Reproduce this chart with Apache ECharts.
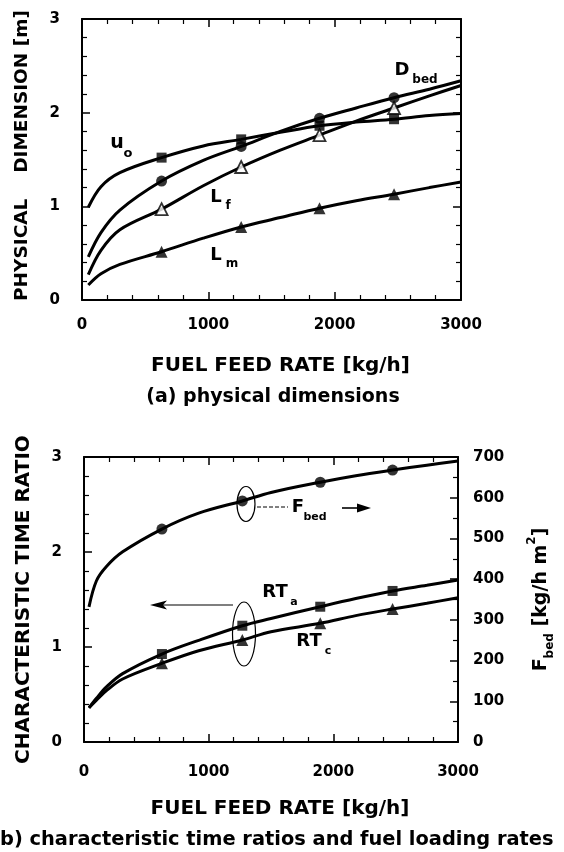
<!DOCTYPE html>
<html>
<head>
<meta charset="utf-8">
<title>physical dimensions / characteristic time ratios</title>
<script src="https://cdn.jsdelivr.net/npm/echarts@6/dist/echarts.min.js"></script>
<style>
  html, body { margin: 0; padding: 0; background: #fff; }
  #chart { width: 564px; height: 852px; }
</style>
</head>
<body>
<div id="chart"></div>
<script>
// ---- (a) physical dimensions [m] vs fuel feed rate [kg/h]
const feedA = [50, 150, 300, 630, 960, 1260, 1570, 1880, 2170, 2470, 2750, 3000];
const uO    = [0.99, 1.21, 1.36, 1.52, 1.645, 1.715, 1.79, 1.86, 1.90, 1.93, 1.97, 1.99];
const dBed  = [0.46, 0.72, 0.96, 1.27, 1.49, 1.64, 1.80, 1.94, 2.05, 2.16, 2.25, 2.34];
const lF    = [0.27, 0.53, 0.75, 0.97, 1.22, 1.42, 1.60, 1.76, 1.91, 2.05, 2.18, 2.29];
const lM    = [0.16, 0.28, 0.38, 0.515, 0.66, 0.78, 0.88, 0.98, 1.06, 1.13, 1.20, 1.26];
const markA = [630, 1260, 1880, 2470];

// ---- (b) characteristic time ratios (left) and fuel loading rate (right)
const feedB = [40, 100, 180, 310, 625, 920, 1270, 1500, 1895, 2180, 2475, 2750, 3000];
const fBed  = [332, 396, 431, 467, 523, 562, 592, 613, 638, 654, 668, 680, 690];
const rtA   = [0.36, 0.46, 0.58, 0.72, 0.926, 1.07, 1.224, 1.30, 1.424, 1.51, 1.59, 1.65, 1.705];
const rtC   = [0.36, 0.44, 0.54, 0.663, 0.828, 0.961, 1.074, 1.161, 1.249, 1.33, 1.40, 1.46, 1.519];
const markB = [625, 1270, 1895, 2475];

// tick labels
const xTicks  = ['0', '1000', '2000', '3000'];
const yTicks  = ['0', '1', '2', '3'];
const fTicks  = ['0', '100', '200', '300', '400', '500', '600', '700'];

const FONT = 'DejaVu Sans';
const black = '#000';

function pairs(xs, ys) {
  return xs.map((x, i) => [x, ys[i]]);
}
function marks(xs, ys, mk) {
  return pairs(xs, ys).filter(p => mk.indexOf(p[0]) >= 0);
}
// label text taken from the tick-label list, not from the number formatter
function fromList(list, step) {
  return v => list[Math.round(v / step)] || '';
}

const frame = { show: true, onZero: false, lineStyle: { color: black, width: 2 } };
const tick = { show: true, inside: true, length: 8, lineStyle: { color: black, width: 1.5 } };
const labelFont = { color: black, fontFamily: FONT, fontWeight: 'bold', fontSize: 15 };

function xAxis(grid, pos, withLabels, margin, nameGap) {
  return {
    type: 'value', gridIndex: grid, position: pos,
    min: 0, max: Number(xTicks[xTicks.length - 1]), interval: 1000,
    axisLine: frame, axisTick: tick,
    minorTick: { show: true, splitNumber: 5, length: 5, lineStyle: { color: black, width: 1.2 } },
    splitLine: { show: false },
    axisLabel: Object.assign({ show: withLabels, margin: margin, formatter: fromList(xTicks, 1000) }, labelFont),
    name: withLabels ? 'FUEL FEED RATE [kg/h]' : '',
    nameLocation: 'middle', nameGap: nameGap,
    nameTextStyle: { color: black, fontFamily: FONT, fontWeight: 'bold', fontSize: 20, padding: [0, 0, 0, 18] }
  };
}

function yAxis(grid, pos, withLabels, name, nameSize, namePad) {
  return {
    type: 'value', gridIndex: grid, position: pos,
    min: 0, max: Number(yTicks[yTicks.length - 1]), interval: 1,
    axisLine: frame, axisTick: tick,
    minorTick: { show: true, splitNumber: 5, length: 5, lineStyle: { color: black, width: 1.2 } },
    splitLine: { show: false },
    axisLabel: Object.assign({ show: withLabels, margin: 22, formatter: fromList(yTicks, 1) }, labelFont),
    name: name, nameLocation: 'middle', nameGap: 50,
    nameTextStyle: { color: black, fontFamily: FONT, fontWeight: 'bold', fontSize: nameSize, padding: namePad || 0 }
  };
}

function line(xi, yi, xs, ys) {
  return {
    type: 'line', xAxisIndex: xi, yAxisIndex: yi, data: pairs(xs, ys),
    smooth: 0.35, showSymbol: false, silent: true,
    lineStyle: { color: black, width: 3 }, z: 2
  };
}

function dots(xi, yi, xs, ys, mk, symbol, size, open) {
  return {
    type: 'scatter', xAxisIndex: xi, yAxisIndex: yi, data: marks(xs, ys, mk),
    symbol: symbol, symbolSize: size, silent: true, z: 3,
    itemStyle: open ? { color: '#fff', borderColor: black, borderWidth: 1.8 } : { color: black }
  };
}

const chart = echarts.init(document.getElementById('chart'));

const option = {
  backgroundColor: '#fff',
  animation: false,
  grid: [
    { left: 82, right: 103, top: 19, height: 281 },
    { left: 84, right: 102, top: 457, height: 285 }
  ],
  xAxis: [
    xAxis(0, 'bottom', true, 18, 56),
    xAxis(0, 'top', false, 0, 0),
    xAxis(1, 'bottom', true, 23, 57),
    xAxis(1, 'top', false, 0, 0)
  ],
  yAxis: [
    yAxis(0, 'left', true, 'PHYSICAL    DIMENSION [m]', 18.5, [0, 0, 0, 8]),
    yAxis(0, 'right', false, '', 19),
    yAxis(1, 'left', true, 'CHARACTERISTIC TIME RATIO', 20),
    {
      type: 'value', gridIndex: 1, position: 'right',
      min: 0, max: Number(fTicks[fTicks.length - 1]), interval: 100,
      axisLine: frame, axisTick: tick,
      minorTick: { show: true, splitNumber: 2, length: 5, lineStyle: { color: black, width: 1.2 } },
      splitLine: { show: false },
      axisLabel: Object.assign({ margin: 15, formatter: fromList(fTicks, 100) }, labelFont),
      name: '{m|F}{s|bed}{m| [kg/h m}{p|2}{m|]}',
      nameLocation: 'middle', nameGap: 68,
      nameTextStyle: {
        color: black, fontFamily: FONT, fontWeight: 'bold',
        rich: {
          m: { fontFamily: FONT, fontWeight: 'bold', fontSize: 19, lineHeight: 30, color: black },
          s: { fontFamily: FONT, fontWeight: 'bold', fontSize: 12, lineHeight: 30, color: black, verticalAlign: 'bottom' },
          p: { fontFamily: FONT, fontWeight: 'bold', fontSize: 12, lineHeight: 30, color: black, verticalAlign: 'top' }
        }
      }
    }
  ],
  series: [
    line(0, 0, feedA, uO),   dots(0, 0, feedA, uO, markA, 'rect', 10, false),
    line(0, 0, feedA, dBed), dots(0, 0, feedA, dBed, markA, 'circle', 11, false),
    line(0, 0, feedA, lF),   dots(0, 0, feedA, lF, markA, 'triangle', 12, true),
    line(0, 0, feedA, lM),   dots(0, 0, feedA, lM, markA, 'triangle', 12, false),

    line(2, 3, feedB, fBed), dots(2, 3, feedB, fBed, markB, 'circle', 11, false),
    line(2, 2, feedB, rtA),  dots(2, 2, feedB, rtA, markB, 'rect', 10, false),
    line(2, 2, feedB, rtC),  dots(2, 2, feedB, rtC, markB, 'triangle', 12, false)
  ]
};

// curve labels, callouts and captions
function txt(x, y, s, size, align) {
  return {
    type: 'text', x: x, y: y, silent: true,
    style: {
      text: s, fill: black, font: 'bold ' + size + 'px "' + FONT + '"',
      align: align || 'center', verticalAlign: 'middle'
    }
  };
}
function seg(x1, y1, x2, y2, w, dash) {
  return {
    type: 'line', silent: true,
    shape: { x1: x1, y1: y1, x2: x2, y2: y2 },
    style: { stroke: black, lineWidth: w, lineDash: dash || null }
  };
}

option.graphic = [
  txt(117, 143, 'u', 19), txt(128, 154, 'o', 13),
  txt(402, 70, 'D', 18), txt(425, 80, 'bed', 12),
  txt(216, 197, 'L', 18), txt(228, 206, 'f', 12),
  txt(216, 255, 'L', 18), txt(232, 264, 'm', 12),

  { type: 'ellipse', silent: true, shape: { cx: 246, cy: 504, rx: 9, ry: 17.5 },
    style: { fill: 'none', stroke: black, lineWidth: 1.2 } },
  { type: 'ellipse', silent: true, shape: { cx: 244, cy: 634, rx: 11.5, ry: 32 },
    style: { fill: 'none', stroke: black, lineWidth: 1.2 } },
  seg(257, 507, 288, 507, 1, [4, 2]),
  txt(298, 507, 'F', 18), txt(315, 517, 'bed', 11),
  seg(342, 508, 361, 508, 1.6),
  { type: 'polygon', silent: true, shape: { points: [[357, 503.5], [371, 508], [357, 512.5]] },
    style: { fill: black } },
  seg(233, 605, 160, 605, 1.2),
  { type: 'polygon', silent: true, shape: { points: [[150, 605], [167, 600.5], [163, 605], [167, 609.5]] },
    style: { fill: black } },
  txt(275, 592, 'RT', 18), txt(294, 602, 'a', 11),
  txt(309, 641, 'RT', 18), txt(328, 651, 'c', 11),

  txt(273, 397, '(a) physical dimensions', 19),
  txt(0, 840, 'b) characteristic time ratios and fuel loading rates', 19.4, 'left')
];

chart.setOption(option);
</script>
</body>
</html>
